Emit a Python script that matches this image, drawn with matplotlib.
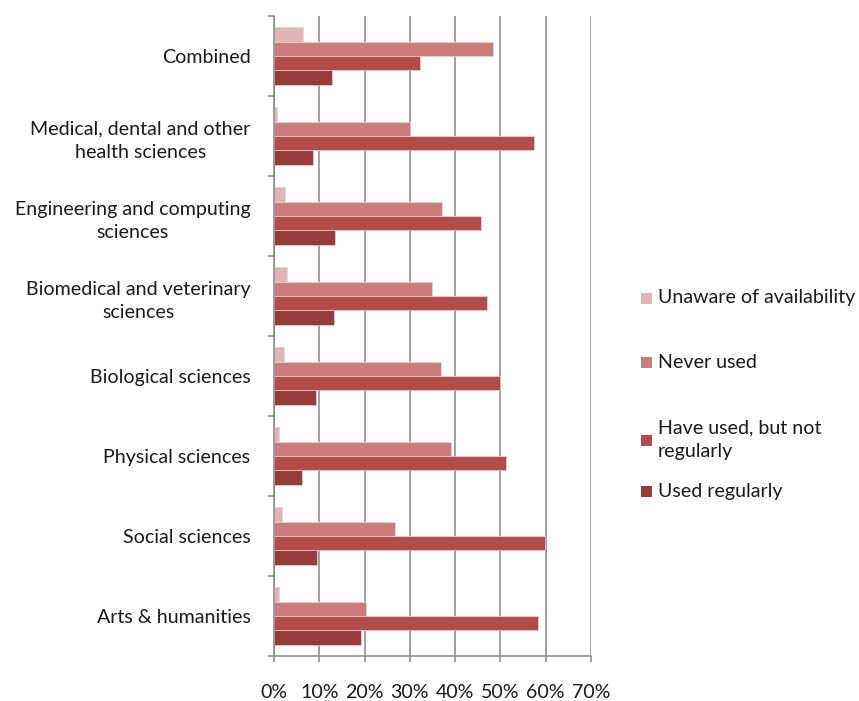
import matplotlib
matplotlib.use("Agg")
import matplotlib.pyplot as plt
import numpy as np
from matplotlib.patches import Rectangle

categories = ["Arts & humanities", "Social sciences", "Physical sciences",
              "Biological sciences", "Biomedical and veterinary\nsciences",
              "Engineering and computing\nsciences",
              "Medical, dental and other\nhealth sciences", "Combined"]
series_names = ["Unaware of availability", "Never used",
                "Have used, but not\nregularly", "Used regularly"]
unaware = [1.0, 1.7, 1.0, 2.3, 2.8, 2.5, 0.7, 6.5]
never_used = [20.3, 26.7, 39.1, 36.8, 34.8, 37.2, 30.0, 48.4]
have_used = [58.3, 59.9, 51.2, 50.0, 47.1, 45.8, 57.5, 32.3]
regularly = [19.2, 9.6, 6.2, 9.3, 13.2, 13.4, 8.7, 12.9]
x_ticks = [0, 10, 20, 30, 40, 50, 60, 70]
x_tick_labels = ["0%", "10%", "20%", "30%", "40%", "50%", "60%", "70%"]

colors = ["#E0B6B5", "#CB7D7C", "#B24B49", "#973C3B"]
series = [unaware, never_used, have_used, regularly]

plt.rcParams['font.family'] = ['Lato', 'DejaVu Sans']
FS = 14.1
TXT = "#1a1a1a"
GRID = "#888888"

fig = plt.figure(figsize=(8.59, 7.01), dpi=100)
ax = fig.add_axes([274/859, 1 - 656/701, (591-274)/859, (656-16)/701])

y = np.arange(len(categories))
h = 0.181
offsets = [1.5*h, 0.5*h, -0.5*h, -1.5*h]
for vals, off, c in zip(series, offsets, colors):
    ax.barh(y + off, vals, height=h, color=c, edgecolor="#ecd3d3",
            linewidth=0.5, zorder=3)

ax.set_xlim(0, 70)
ax.set_ylim(-0.5, len(categories) - 0.5)
ax.set_xticks(x_ticks)
ax.set_xticklabels(x_tick_labels, fontsize=FS, color=TXT)
ax.set_yticks(y)
ax.set_yticklabels(categories, fontsize=FS, color=TXT)
for lbl in ax.get_yticklabels():
    lbl.set_multialignment('center')
    lbl.set_linespacing(1.45)
ax.set_yticks(np.arange(-0.5, len(categories)), minor=True)
ax.tick_params(axis='y', which='major', length=0, pad=17)
ax.tick_params(axis='y', which='minor', length=4, width=1.1, color=GRID, direction='out')
ax.tick_params(axis='x', which='major', length=4, width=1.1, color=GRID, pad=16, direction='out')

ax.grid(axis='x', color=GRID, linewidth=1.1, zorder=0)
for s in ['top', 'right']:
    ax.spines[s].set_visible(False)
for s in ['left', 'bottom']:
    ax.spines[s].set_color(GRID)
    ax.spines[s].set_linewidth(1.1)
    ax.spines[s].set_zorder(4)

# legend drawn manually (Excel-like uneven spacing)
legend_y = [298, 362, 440, 491]
for name, c, ly in zip(series_names, colors, legend_y):
    fig.patches.append(Rectangle(((641)/859, 1 - (ly + 5.5)/701), 11/859, 11/701,
                                 transform=fig.transFigure, facecolor=c,
                                 edgecolor='none', figure=fig))
    fig.text(658/859, 1 - ly/701, name, fontsize=FS, color=TXT,
             ha='left', va='center', linespacing=1.45)

fig.savefig("out.png", dpi=100)
